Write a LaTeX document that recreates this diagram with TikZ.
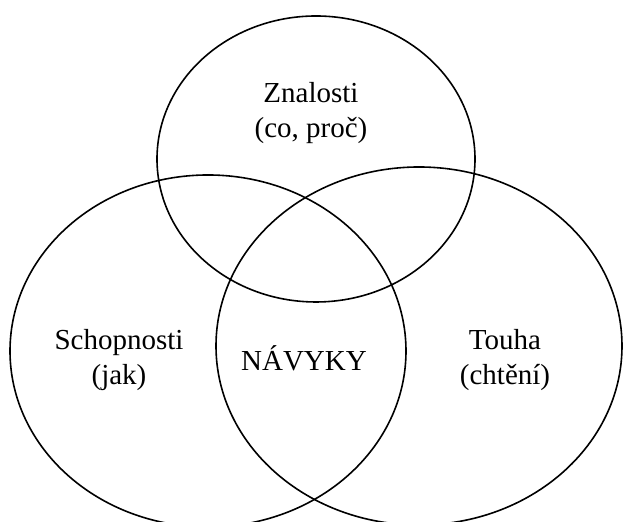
\documentclass[tikz,border=0pt]{standalone}
\usepackage{fontspec}
\setmainfont{Liberation Serif}

\begin{document}
\begin{tikzpicture}
[x=0.5pt,y=0.5pt,line cap=round,
% Styles
set line/.style={line width=0.8pt},
set label/.style={align=center,inner sep=0pt,font={\fontsize{14.5}{17.5}\selectfont}}]
% Frame
\useasboundingbox (0,0) rectangle (623,522);
\clip (0,0) rectangle (623,522);
% The sets
\coordinate (knowledge) at (316,363);
\coordinate (skills) at (208,171);
\coordinate (desire) at (419,176);
\draw[set line] (knowledge) ellipse [x radius=159, y radius=143];
\draw[set line] (skills) ellipse [x radius=198, y radius=176];
\draw[set line] (desire) ellipse [x radius=203, y radius=179];
% Labels
\node[set label] (znalosti) at (311,409) {Znalosti\\(co, proč)};
\node[set label] (schopnosti) at (119,162) {Schopnosti\\(jak)};
\node[set label] (touha) at (505,162) {Touha\\(chtění)};
\node[set label] (navyky) at (304,164) {NÁVYKY};
\end{tikzpicture}
\end{document}
